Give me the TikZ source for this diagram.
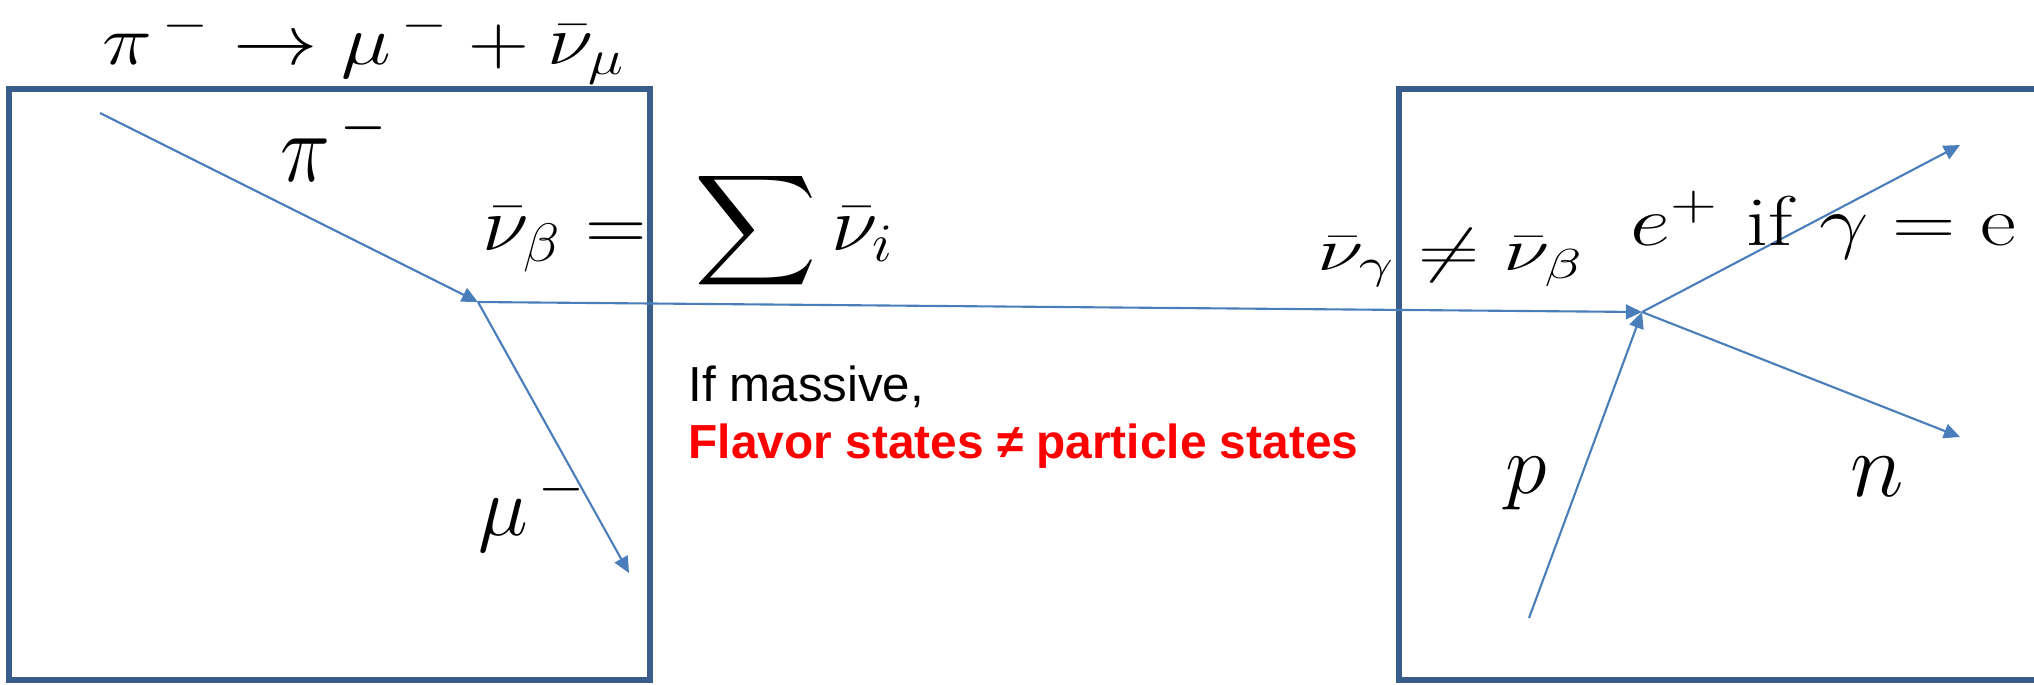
\RequirePackage{fix-cm}
\documentclass[tikz,border=0pt]{standalone}
\usepackage{amsmath, amssymb, graphicx}
\usepackage{fontspec}
\setsansfont{Liberation Sans}
\usepackage{tikz}
\usetikzlibrary{arrows.meta, positioning}
\definecolor{boxblue}{HTML}{385D8A}
\definecolor{rayblue}{HTML}{4A7EBB}

\begin{document}
\begin{tikzpicture}[x=0.01cm, y=-0.01cm,
  box/.style={draw=boxblue, line width=1.45pt},
  ray/.style={rayblue, line width=0.6pt, -{Triangle[length=4.6pt,width=4.2pt]}},
  lbl/.style={inner sep=0pt, anchor=base west, font=\fontsize{24}{28}\selectfont},
  note/.style={inner sep=0pt, anchor=base west, font=\sffamily\fontsize{14}{17}\selectfont}]
  \useasboundingbox (0,0) rectangle (2034,684);
  \clip (0,0) rectangle (2034,684);
  % boxes
  \draw[box] (9,89) rectangle (650,680);
  \draw[box] (1399,89) rectangle (2060,680);
  % vertices
  \coordinate (pi0) at (100,113);
  \coordinate (decay) at (478,302);
  \coordinate (mu1) at (629,573);
  \coordinate (hit) at (1642,312);
  \coordinate (p0) at (1529,618);
  \coordinate (e1) at (1960,145);
  \coordinate (n1) at (1960,437);
  % pion decay
  \draw[ray] (pi0) -- (decay);
  \draw[ray] (decay) -- (mu1);
  \draw[ray] (decay) -- (hit);
  % capture on the proton
  \draw[ray] (p0) -- (hit);
  \draw[ray] (hit) -- (e1);
  \draw[ray] (hit) -- (n1);
  % labels
  \node[lbl, font=\fontsize{20}{24}\selectfont] (reac) at (102,64) {\scalebox{1.2}[1]{$\pi^{\,-}\rightarrow\mu^{\,-}+\bar\nu_\mu$}};
  \node[lbl] (pilbl) at (280,181) {\scalebox{1}[1.17]{$\pi^{\,-}$}};
  \node[lbl] (mulbl) at (478,535) {$\mu^{\,-}$};
  \node[lbl, font=\fontsize{22}{26}\selectfont] (mix) at (482,250) {\scalebox{1.1}[1]{$\bar\nu_\beta=\;\displaystyle\sum\bar\nu_i$}};
  \node[lbl, font=\fontsize{17}{20}\selectfont] (neq) at (1317,270) {\scalebox{1.42}[1]{$\bar\nu_\gamma\neq\bar\nu_\beta$}};
  \node[lbl, font=\fontsize{20}{24}\selectfont] (pos) at (1630,245) {\scalebox{1.25}[1]{$e^+\ \mathrm{if}\ \gamma=\mathrm{e}$}};
  \node[lbl] (plbl) at (1505,493) {$p$};
  \node[lbl, font=\fontsize{26}{30}\selectfont] (nlbl) at (1850,496) {$n$};
  \node[note] (mass) at (688,401) {If massive,};
  \node[note, font=\sffamily\bfseries\fontsize{13.6}{17}\selectfont, text=red] (flav) at (688,458) {Flavor states ≠ particle states};
\end{tikzpicture}
\end{document}
